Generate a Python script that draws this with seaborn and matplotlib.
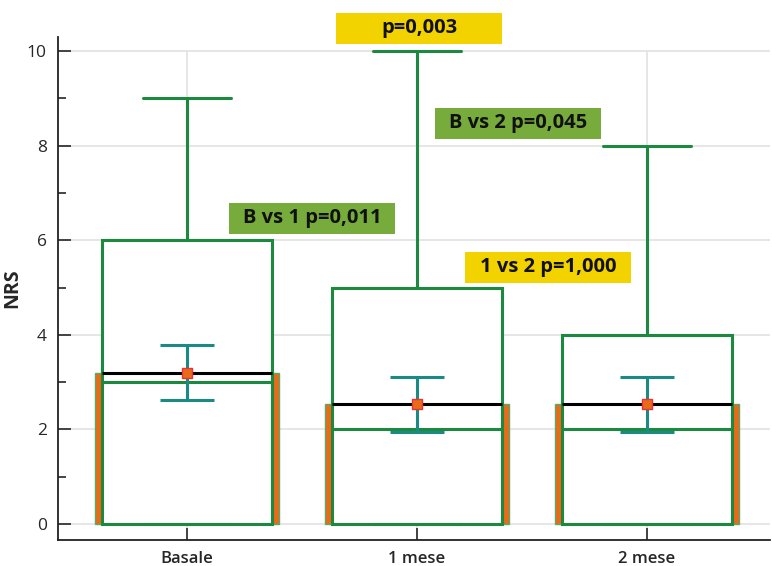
import numpy as np
import seaborn as sns
import matplotlib.pyplot as plt
from matplotlib.patches import Rectangle

# values
categories = ["Basale", "1 mese", "2 mese"]
box_low = [0, 0, 0]
box_q1 = [0, 0, 0]
box_median = [3, 2, 2]
box_q3 = [6, 5, 4]
box_high = [9, 10, 8]
means = [3.2, 2.54, 2.54]
ci_low = [2.62, 1.95, 1.95]
ci_high = [3.78, 3.1, 3.1]

label_texts = ["p=0,003", "B vs 2 p=0,045", "B vs 1 p=0,011", "1 vs 2 p=1,000"]
label_x = [1.01, 1.44, 0.545, 1.57]
label_y = [10.49, 8.48, 6.47, 5.43]
label_colors = ["#f2d300", "#77ab3b", "#77ab3b", "#f2d300"]

GREEN = "#1c8a3e"
ORANGE = "#e96a17"
TEAL = "#1a8a82"

sns.set_theme(style="white")
plt.rcParams['font.family'] = ['Open Sans', 'DejaVu Sans']

fig = plt.figure(figsize=(7.72, 5.66), dpi=100)
ax = fig.add_axes([0.0751, 0.0459, 0.9223, 0.8887])

pos = np.arange(len(categories))

# orange mean bars behind the boxes
sns.barplot(x=categories, y=means, color=ORANGE, width=0.8, saturation=1,
            edgecolor="#5aa86a", linewidth=1, ax=ax, zorder=2, errorbar=None)

stats = []
for i, name in enumerate(categories):
    stats.append(dict(label=name, whislo=box_low[i], q1=box_q1[i], med=box_median[i],
                      q3=box_q3[i], whishi=box_high[i], fliers=[]))

ax.bxp(stats, positions=pos, widths=0.74, capwidths=0.38, patch_artist=True,
       showfliers=False, manage_ticks=False,
       boxprops=dict(facecolor="white", edgecolor=GREEN, linewidth=2.2, zorder=3),
       medianprops=dict(color=GREEN, linewidth=2.2, zorder=4),
       whiskerprops=dict(color=GREEN, linewidth=2.2, zorder=3),
       capprops=dict(color=GREEN, linewidth=2.2, zorder=3))

# mean line
ax.hlines(means, pos - 0.37, pos + 0.37, color="black", linewidth=2.2, zorder=5)

# confidence interval of the mean
ax.errorbar(pos, means, yerr=[np.array(means) - np.array(ci_low), np.array(ci_high) - np.array(means)],
            fmt="none", ecolor=TEAL, elinewidth=2.2, capsize=19.5, capthick=2.2, zorder=6)
ax.scatter(pos, means, marker="s", s=55, color=ORANGE, edgecolor="#e8323c", linewidth=1, zorder=7)

# p-value labels
for t, x, y, c in zip(label_texts, label_x, label_y, label_colors):
    ax.add_patch(Rectangle((x - 0.36, y - 0.328), 0.72, 0.656, facecolor=c,
                           edgecolor="none", clip_on=False, zorder=8))
    ax.text(x, y, t, ha="center", va="center", fontsize=14.5, fontweight="bold",
            color="#111111", zorder=9, clip_on=False)

ax.set_xlim(-0.56, 2.535)
ax.set_ylim(-0.34, 10.3)
ax.set_xticks(pos)
ax.set_xticklabels(categories, fontsize=12, fontweight="semibold")
ax.set_yticks(range(0, 11, 2))
ax.set_yticks(range(1, 11, 2), minor=True)
ax.tick_params(axis="y", which="major", direction="in", length=9, width=1.2, labelsize=12.5, pad=8, left=True)
ax.tick_params(axis="y", which="minor", direction="in", length=6, width=1.2, left=True)
ax.tick_params(axis="x", direction="in", length=9, width=1.2, pad=8, bottom=True)
ax.set_ylabel("NRS", fontsize=14, fontweight="bold", labelpad=3)
ax.set_xlabel("")

# grid: horizontal at major ticks, vertical at categories up to 10
ax.grid(True, axis="y", which="major", color="#e2e2e2", linewidth=1.2, zorder=0)
ax.vlines(pos, -0.34, 10, color="#e2e2e2", linewidth=1.2, zorder=0)
ax.set_axisbelow(True)
sns.despine(ax=ax)
for s in ["left", "bottom"]:
    ax.spines[s].set_color("#222222")
    ax.spines[s].set_linewidth(1.3)

fig.savefig("out.png", dpi=100)
